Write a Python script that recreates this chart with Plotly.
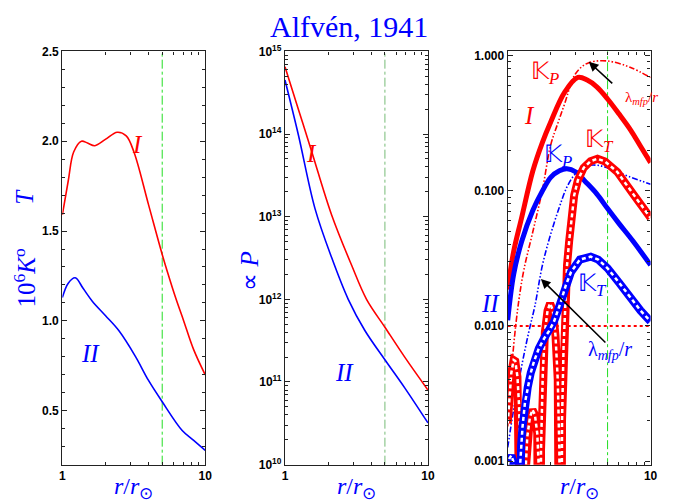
import plotly.graph_objects as go

W, H = 678, 504

# ---------------- data ----------------
# Panel 1: temperature (10^6 K)
r_T_I = [1.0, 1.1, 1.2, 1.36, 1.5, 1.69, 2.0, 2.42, 2.8, 3.17, 4.0, 5.0, 5.55, 6.2, 7.07, 8.3, 10.0]
T_I = [1.59, 1.78, 1.94, 2.0, 1.99, 1.975, 2.01, 2.05, 2.03, 1.94, 1.65, 1.37, 1.25, 1.13, 1.0, 0.84, 0.70]
r_T_II = [1.0, 1.1, 1.23, 1.4, 1.62, 2.0, 2.49, 3.26, 4.0, 5.0, 6.9, 8.3, 10.0]
T_II = [1.13, 1.21, 1.24, 1.18, 1.11, 1.03, 0.945, 0.80, 0.67, 0.55, 0.39, 0.335, 0.28]

# Panel 2: pressure
r_P_I = [1.0, 1.24, 1.535, 2.12, 2.92, 3.72, 5.0, 6.88, 10.0]
P_I = [6.5e14, 2.0e14, 6.2e13, 1.05e13, 2.6e12, 1.0e12, 4.6e11, 2.0e11, 8.0e10]
r_P_II = [1.0, 1.24, 1.62, 2.12, 2.77, 3.62, 5.0, 6.88, 10.0]
P_II = [4.5e14, 9.8e13, 1.26e13, 3.2e12, 1.0e12, 4.2e11, 1.86e11, 8.5e10, 3.2e10]

# Panel 3: Knudsen-like numbers
r_KP_I = [1.0, 1.1, 1.25, 1.5, 1.75, 2.0, 2.5, 3.1, 3.6, 4.2, 5.0, 6.0, 7.25, 8.5, 10.0]
KP_I = [0.0186, 0.0355, 0.063, 0.141, 0.229, 0.324, 0.537, 0.692, 0.661, 0.589, 0.479, 0.372, 0.282, 0.214, 0.162]
r_KP_II = [1.0, 1.1, 1.25, 1.5, 1.75, 2.0, 2.3, 2.6, 3.0, 3.5, 4.2, 5.0, 6.0, 7.5, 10.0]
KP_II = [0.011, 0.024, 0.042, 0.072, 0.10, 0.126, 0.141, 0.146, 0.138, 0.117, 0.095, 0.074, 0.0575, 0.0427, 0.0282]
r_L_I = [1.0, 1.1, 1.2, 1.3, 1.5, 1.75, 2.0, 2.25, 2.5, 2.92, 3.3, 3.7, 4.5, 5.5, 7.25, 10.0]
L_I = [0.0018, 0.0071, 0.0158, 0.0263, 0.050, 0.102, 0.219, 0.32, 0.44, 0.71, 0.83, 0.89, 0.92, 0.90, 0.82, 0.69]
r_L_II = [1.0, 1.1, 1.25, 1.4, 1.55, 1.75, 2.0, 2.3, 2.6, 3.0, 3.6, 4.2, 5.0, 6.5, 10.0]
L_II = [0.00126, 0.0024, 0.005, 0.0089, 0.0141, 0.0282, 0.0479, 0.0759, 0.107, 0.135, 0.153, 0.155, 0.148, 0.132, 0.112]
r_KT_I = [1.0, 1.03, 1.06, 1.1, 1.13, 1.17, 1.2, 1.22, 1.25, 1.29, 1.33, 1.37, 1.43, 1.49, 1.55,
          1.61, 1.65, 1.68, 1.71, 1.76, 1.82, 1.9, 1.98, 2.07, 2.16, 2.24, 2.3, 2.35, 2.4, 2.46,
          2.53, 2.6, 2.69, 2.8, 2.92, 3.1, 3.4, 3.8, 4.25, 4.8, 5.85, 7.65, 10.0]
KT_I = [0.0019, 0.0032, 0.0045, 0.0056, 0.0055, 0.0042, 0.0026, 0.0014, 0.0008, 1e-6, 0.0008, 0.0015, 0.0021, 0.0024, 0.0022,
        0.0016, 0.0009, 1e-6, 0.0012, 0.0045, 0.009, 0.013, 0.0147, 0.013, 0.0085, 0.004, 0.0012, 1e-6, 0.002, 0.007,
        0.017, 0.028, 0.042, 0.066, 0.093, 0.12, 0.148, 0.166, 0.173, 0.165, 0.138, 0.093, 0.063]
r_KT_II = [1.0, 1.03, 1.06, 1.1, 1.13, 1.17, 1.21, 1.24, 1.27, 1.32, 1.38, 1.45, 1.53, 1.65, 1.8, 1.95,
           2.11, 2.35, 2.55, 2.77, 3.2, 3.81, 4.3, 5.0, 6.0, 7.25, 8.5, 10.0]
KT_II = [0.00092, 0.00105, 0.0011, 0.00098, 0.0007, 1e-6, 0.0008, 0.0013, 0.0018, 0.0027, 0.0035, 0.0045, 0.0055, 0.0068, 0.0081, 0.0092,
         0.0108, 0.015, 0.02, 0.025, 0.031, 0.0326, 0.031, 0.0267, 0.021, 0.016, 0.013, 0.0108]
r_level = [1.0, 10.0]
K_level = [0.01, 0.01]
r_mark = [5.0, 5.0]

RED = "#ff0000"
BLUE = "#0000ff"
GREEN = "#22dd22"
DDOT = "6px,2px,1.5px,2px,1.5px,2px"

# observed placement of the figure inside the photographed window
OX, SW, OY, SH = 8.5, 670.0, 15.0, 490.0


def PX(x):
    return (x - OX) / SW


def PY(y):
    return 1 - (y - OY) / SH


fig = go.Figure()


def add(x, y, xa, ya, color, width, dash="solid", shape="spline"):
    fig.add_trace(go.Scatter(x=x, y=y, mode="lines", xaxis=xa, yaxis=ya,
                             line=dict(color=color, width=width, dash=dash, shape=shape),
                             showlegend=False, hoverinfo="skip"))


# panel 1
add(r_mark, [0.2, 2.5], "x", "y", GREEN, 1, "dashdot", "linear")
add(r_T_I, T_I, "x", "y", RED, 1.6)
add(r_T_II, T_II, "x", "y", BLUE, 1.6)
# panel 2
add(r_mark, [1e10, 1e15], "x2", "y2", "#77bb77", 1, "dashdot", "linear")
add(r_P_I, P_I, "x2", "y2", RED, 1.6)
add(r_P_II, P_II, "x2", "y2", BLUE, 1.6)
# panel 3
add(r_mark, [0.0009, 1.1], "x3", "y3", GREEN, 1, "dashdot", "linear")
add(r_level, K_level, "x3", "y3", RED, 2, "dot", "linear")
add(r_L_I, L_I, "x3", "y3", RED, 1.6, DDOT)
add(r_L_II, L_II, "x3", "y3", BLUE, 1.6, DDOT)
add(r_KP_I, KP_I, "x3", "y3", RED, 5)
add(r_KP_II, KP_II, "x3", "y3", BLUE, 5)
add(r_KT_I, KT_I, "x3", "y3", RED, 8, "solid", "linear")
add(r_KT_I, KT_I, "x3", "y3", "white", 2.5, "4px,3px", "linear")
add(r_KT_II, KT_II, "x3", "y3", BLUE, 8, "solid", "linear")
add(r_KT_II, KT_II, "x3", "y3", "white", 2.5, "4px,3px", "linear")

ydom = [PY(464.5), PY(49.5)]
xdoms = [[PX(60), PX(203.3)], [PX(283.3), PX(426.7)], [PX(506.7), PX(650)]]

tickfont = dict(family="Liberation Sans, Arial", size=12, color="black", weight="bold")
axcommon = dict(showline=True, linecolor="#222", linewidth=1.3, mirror="ticks", ticks="inside",
                ticklen=5, tickcolor="#222", showgrid=False, zeroline=False, tickfont=tickfont)
minor_r = dict(ticks="inside", ticklen=3, tickcolor="#222", tickvals=[2, 3, 4, 5, 6, 7, 8, 9], showgrid=False)

fig.update_layout(
    width=W, height=H, margin=dict(l=0, r=0, t=0, b=0),
    paper_bgcolor="white", plot_bgcolor="white",
    xaxis=dict(domain=xdoms[0], type="log", range=[0, 1], tickvals=[1, 10], ticktext=["1", "10"],
               minor=minor_r, anchor="y", **axcommon),
    yaxis=dict(domain=ydom, range=[0.2, 2.5], tickvals=[0.5, 1.0, 1.5, 2.0, 2.5],
               ticktext=["0.5", "1.0", "1.5", "2.0", "2.5"],
               minor=dict(ticks="inside", ticklen=3, tickcolor="#222", dtick=0.1, showgrid=False),
               anchor="x", **axcommon),
    xaxis2=dict(domain=xdoms[1], type="log", range=[0, 1], tickvals=[1, 10], ticktext=["1", "10"],
                minor=minor_r, anchor="y2", **axcommon),
    yaxis2=dict(domain=ydom, type="log", range=[10, 15],
                tickvals=[1e10, 1e11, 1e12, 1e13, 1e14, 1e15],
                ticktext=["10<sup>10</sup>", "10<sup>11</sup>", "10<sup>12</sup>", "10<sup>13</sup>",
                          "10<sup>14</sup>", "10<sup>15</sup>"],
                minor=dict(ticks="inside", ticklen=3, tickcolor="#222", showgrid=False,
                           tickvals=[m * 10 ** e for e in range(10, 15) for m in range(2, 10)]),
                anchor="x2", **axcommon),
    xaxis3=dict(domain=xdoms[2], type="log", range=[0, 1], tickvals=[1, 10], ticktext=["", "10"],
                minor=minor_r, anchor="y3", **axcommon),
    yaxis3=dict(domain=ydom, type="log", range=[-3.027, 0.033],
                tickvals=[0.001, 0.01, 0.1, 1.0], ticktext=["0.001", "0.010", "0.100", "1.000"],
                minor=dict(ticks="inside", ticklen=3, tickcolor="#222", showgrid=False,
                           tickvals=[m * 10 ** e for e in range(-3, 0) for m in range(2, 10)]),
                anchor="x3", **axcommon),
)

SERIF = "Liberation Serif, Times New Roman, serif"


def label(x, y, text, color, size, angle=0, italic=False):
    fig.add_annotation(x=PX(x), y=PY(y), xref="paper", yref="paper", text=text, showarrow=False,
                       textangle=angle, xanchor="center", yanchor="middle",
                       font=dict(family=SERIF, size=size, color=color,
                                 style="italic" if italic else "normal"))


label(348, 25, "Alfvén, 1941", BLUE, 30)
# axis titles
label(22, 195, "T", BLUE, 25, -90, True)
label(22, 277, "10<sup>6</sup><i>K</i><sup>o</sup>", BLUE, 25, -90)
label(248, 270, "∝ <i>P</i>", BLUE, 25, -90)
for cx in (131.6, 355, 578.3):
    label(cx, 488, "<i>r</i>/<i>r</i><sub>⊙</sub>", BLUE, 24)
# curve labels
label(135, 143, "I", RED, 25, 0, True)
label(88, 353, "II", BLUE, 25, 0, True)
label(310, 152, "I", RED, 25, 0, True)
label(343, 372, "II", BLUE, 25, 0, True)
label(529, 114, "I", RED, 25, 0, True)
label(489, 303, "II", BLUE, 25, 0, True)
label(544, 71, "𝕂<sub><i>P</i></sub>", RED, 24)
label(557, 155, "𝕂<sub><i>P</i></sub>", BLUE, 24)
label(599, 140, "𝕂<sub><i>T</i></sub>", RED, 24)
label(592, 284, "𝕂<sub><i>T</i></sub>", BLUE, 24)
label(641, 96, "λ<sub><i>mfp</i></sub>/<i>r</i>", RED, 15)
label(609, 350, "λ<sub><i>mfp</i></sub>/<i>r</i>", BLUE, 20)

# arrows
for (hx, hy, tx, ty) in [(588, 60, 613, 83), (540, 278, 606, 343)]:
    fig.add_annotation(x=PX(hx), y=PY(hy), xref="paper", yref="paper", text="", showarrow=True,
                       ax=tx - hx, ay=ty - hy, axref="pixel", ayref="pixel",
                       arrowhead=2, arrowsize=1.2, arrowwidth=1.6, arrowcolor="black")

fig.write_html("out.html")
